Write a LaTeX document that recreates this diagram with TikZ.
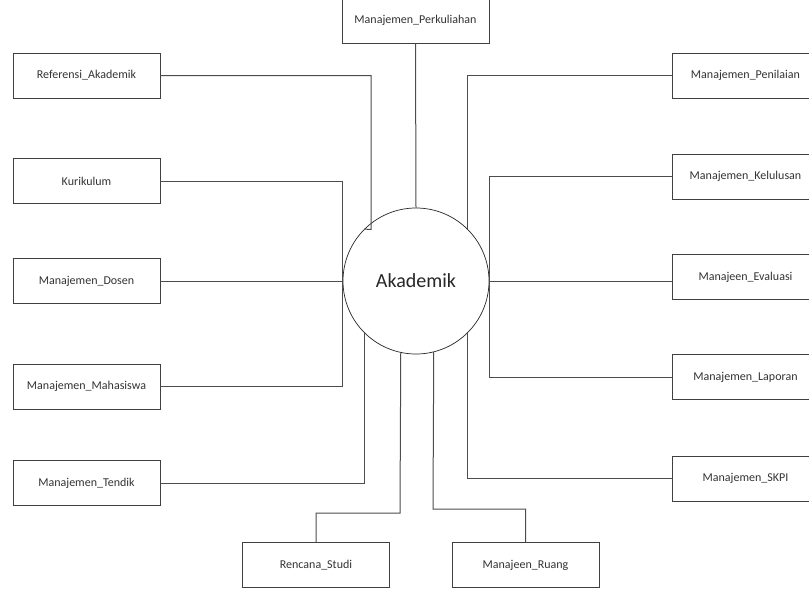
\documentclass[tikz,border=0pt]{standalone}
\usepackage{fontspec}
\setmainfont{Carlito}
\begin{document}
\begin{tikzpicture}[x=1pt,y=-1pt,
  box/.style={draw=black!75, line width=0.9pt, fill=white, minimum width=147pt,
    minimum height=45pt, inner sep=0pt, text=black!80, font=\fontsize{12}{14}\selectfont},
  link/.style={draw=black!70, line width=1pt},
  hub/.style={circle, draw=black!85, line width=0.7pt, minimum size=146pt, inner sep=0pt,
    font=\fontsize{20}{24}\selectfont, text=black!85}]
\useasboundingbox (0,0) rectangle (809,589);

% central entity
\node[hub] (ak) at (416,281) {Akademik};

% top
\node[box] (per) at (415.5,20.5) {Manajemen\_Perkuliahan};

% left column
\node[box] (ref) at (86.5,75.5) {Referensi\_Akademik};
\node[box] (kur) at (86.5,181) {Kurikulum};
\node[box] (dos) at (86.5,281) {Manajemen\_Dosen};
\node[box] (mhs) at (86.5,386.5) {Manajemen\_Mahasiswa};
\node[box] (ten) at (86.5,483) {Manajemen\_Tendik};

% right column (running past the page edge)
\node[box] (pen) at (745.5,75.5) {Manajemen\_Penilaian};
\node[box] (kel) at (745.5,176.5) {Manajemen\_Kelulusan};
\node[box] (eva) at (745.5,277) {Manajeen\_Evaluasi};
\node[box] (lap) at (745.5,377) {Manajemen\_Laporan};
\node[box] (skp) at (745.5,478.5) {Manajemen\_SKPI};

% bottom
\node[box] (ren) at (316,565) {Rencana\_Studi};
\node[box] (rua) at (525.5,565) {Manajeen\_Ruang};

% bend points
\coordinate (rk) at (371,229.4);
\coordinate (rs) at (400,513);
\coordinate (rr) at (433,509);

% connectors
\draw[link] (per.south) -- (ak.north);
\draw[link] (ref.east) -| (rk) -- (ak.135);
\draw[link] (kur.east) -| (ak.west);
\draw[link] (dos.east |- ak.west) -- (ak.west);
\draw[link] (mhs.east) -| (ak.west);
\draw[link] (ten.east) -| (ak.-135);
\draw[link] (pen.west) -| (ak.45);
\draw[link] (kel.west) -| (ak.east);
\draw[link] (eva.west |- ak.east) -- (ak.east);
\draw[link] (lap.west) -| (ak.east);
\draw[link] (skp.west) -| (ak.-45);
\draw[link] (ak.-102.7) -- (rs) -| (ren.north);
\draw[link] (ak.-76.5) -- (rr) -| (rua.north);
\end{tikzpicture}
\end{document}
